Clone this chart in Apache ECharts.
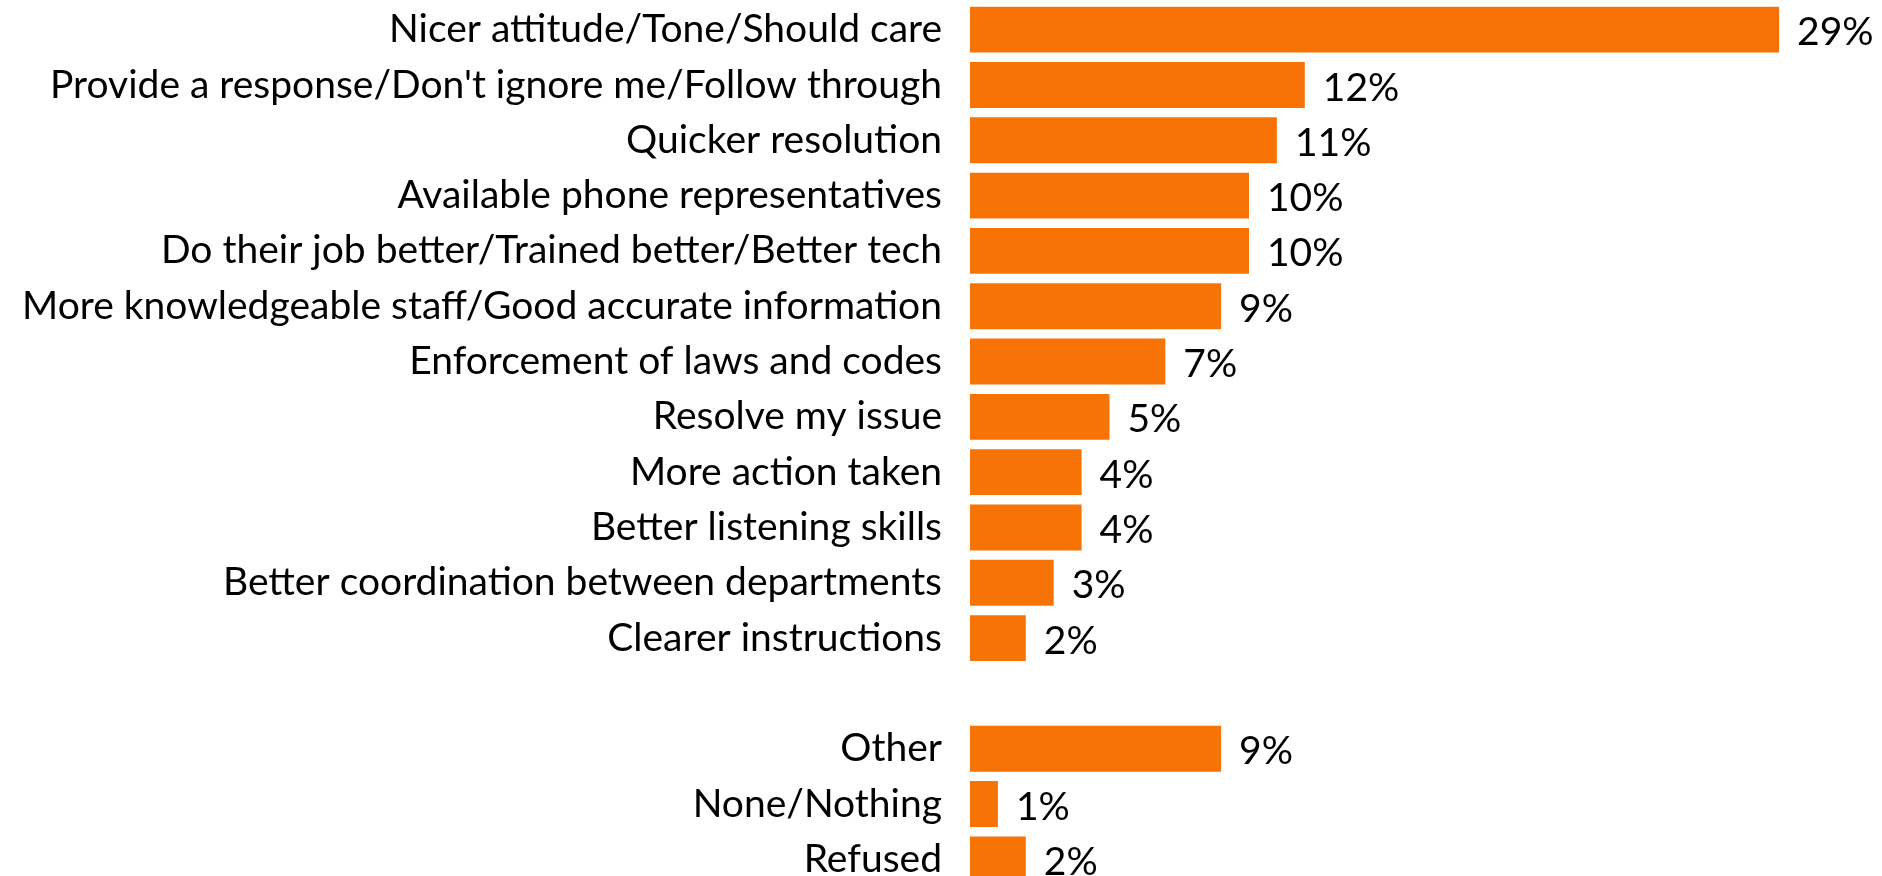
<!DOCTYPE html>
<html>
<head>
<meta charset="utf-8">
<script src="https://cdn.jsdelivr.net/npm/echarts@6/dist/echarts.min.js"></script>
<style>
  html, body { margin: 0; padding: 0; background: #fff; }
  #chart { width: 1882px; height: 876px; }
</style>
</head>
<body>
<div id="chart"></div>
<script>
// categories top to bottom; the empty one is the gap before "Other"
const categories = [
  'Nicer attitude/Tone/Should care',
  "Provide a response/Don't ignore me/Follow through",
  'Quicker resolution',
  'Available phone representatives',
  'Do their job better/Trained better/Better tech',
  'More knowledgeable staff/Good accurate information',
  'Enforcement of laws and codes',
  'Resolve my issue',
  'More action taken',
  'Better listening skills',
  'Better coordination between departments',
  'Clearer instructions',
  '',
  'Other',
  'None/Nothing',
  'Refused'
];
const percents = [29, 12, 11, 10, 10, 9, 7, 5, 4, 4, 3, 2, null, 9, 1, 2];

const chart = echarts.init(document.getElementById('chart'));

const option = {
  animation: false,
  textStyle: { fontFamily: 'Lato' },
  grid: {
    left: 970,
    top: 2,
    width: 837,
    height: 885,
    outerBoundsMode: 'none'
  },
  xAxis: {
    type: 'value',
    min: 0,
    max: 30,
    show: false
  },
  yAxis: {
    type: 'category',
    inverse: true,
    data: categories,
    axisLine: { show: false },
    axisTick: { show: false },
    axisLabel: {
      margin: 28,
      color: '#000',
      fontSize: 39,
      fontFamily: 'Lato'
    }
  },
  series: [
    {
      type: 'bar',
      data: percents,
      barCategoryGap: '17%',
      itemStyle: { color: '#f87306' },
      label: {
        show: true,
        position: 'right',
        distance: 18,
        color: '#000',
        fontSize: 39,
        fontFamily: 'Lato',
        offset: [0, 3],
        formatter: p => p.value == null ? '' : p.value + '%'
      }
    }
  ]
};

chart.setOption(option);
</script>
</body>
</html>
